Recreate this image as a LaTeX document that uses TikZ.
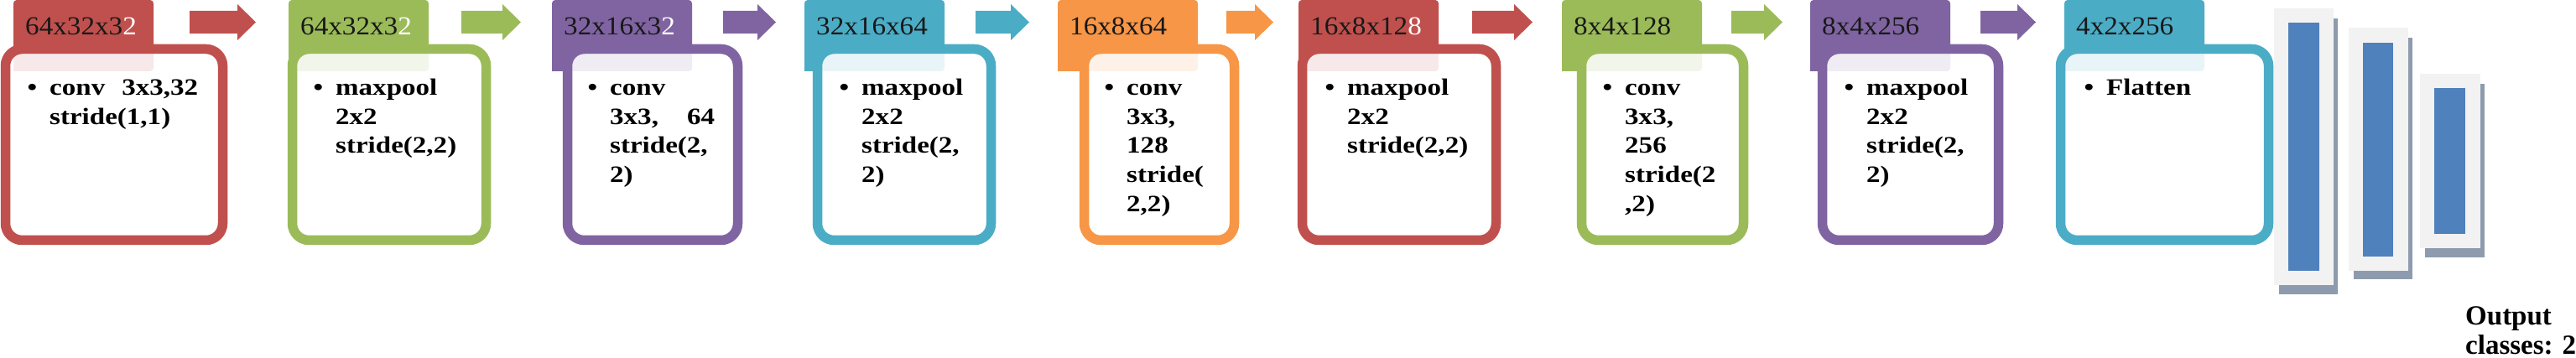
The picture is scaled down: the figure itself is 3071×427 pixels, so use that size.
\documentclass[tikz,border=0pt]{standalone}
\usepackage{fontspec}
\setmainfont{Liberation Serif}
\newfontfamily\tabfont[FakeStretch=1.07]{Liberation Serif}
\newfontfamily\bodyfont[FakeStretch=1.18]{Liberation Serif}
\usetikzlibrary{calc}
\definecolor{cred}{HTML}{C0504D}
\definecolor{cgreen}{HTML}{9BBB59}
\definecolor{cpurple}{HTML}{8064A2}
\definecolor{caqua}{HTML}{4BACC6}
\definecolor{corange}{HTML}{F79646}
\definecolor{cblue}{HTML}{4F81BD}
\definecolor{cpale}{HTML}{F2F2F2}
\definecolor{cshadow}{HTML}{8E9BAE}
\tikzset{
  tabtext/.style={anchor=base west,inner sep=0,font=\tabfont\fontsize{31}{35}\selectfont,text=black!90},
  stagebox/.style={draw=#1,line width=11.5,fill=white,fill opacity=0.88,rounded corners=20},
  bodytext/.style={anchor=base west,inner sep=0,align=left,font=\bodyfont\bfseries\fontsize{28}{34.7}\selectfont},
  outtext/.style={anchor=base west,inner sep=0,align=left,font=\bfseries\fontsize{33}{35}\selectfont},
}
\newcommand{\bul}{\llap{\textbullet\hspace{15pt}}}
\begin{document}
\begin{tikzpicture}[x=1pt,y=-1pt]
\useasboundingbox (0,0) rectangle (3071,427);
% tabs
\foreach \xt/\c in {16/cred,344/cgreen,658/cpurple,959/caqua,1261/corange,1548/cred,1862/cgreen,2158/cpurple,2461/caqua}
  \fill[\c] (\xt,85) [rounded corners=4]|- (\xt+167,0) -- (\xt+167,85) [sharp corners]-- cycle;
% boxes
\draw[stagebox=cred](6.5,58.5)rectangle(265.5,286.5);
\draw[stagebox=cgreen](348.5,58.5)rectangle(579.5,286.5);
\draw[stagebox=cpurple](676.5,58.5)rectangle(879.5,286.5);
\draw[stagebox=caqua](974.5,58.5)rectangle(1181.5,286.5);
\draw[stagebox=corange](1292.5,58.5)rectangle(1471.5,286.5);
\draw[stagebox=cred](1552.5,58.5)rectangle(1783.5,286.5);
\draw[stagebox=cgreen](1885.5,58.5)rectangle(2078.5,286.5);
\draw[stagebox=cpurple](2172.5,58.5)rectangle(2382.5,286.5);
\draw[stagebox=caqua](2456.5,58.5)rectangle(2704.5,286.5);
% tab labels
\node[tabtext](t1)at(30,42){64x32x3\textcolor{white}{2}};
\node[tabtext](t2)at(358,42){64x32x3\textcolor{white}{2}};
\node[tabtext](t3)at(672,42){32x16x3\textcolor{white}{2}};
\node[tabtext](t4)at(973,42){32x16x64};
\node[tabtext](t5)at(1275,42){16x8x64};
\node[tabtext](t6)at(1562,42){16x8x12\textcolor{white}{8}};
\node[tabtext](t7)at(1876,42){8x4x128};
\node[tabtext](t8)at(2172,42){8x4x256};
\node[tabtext](t9)at(2475,42){4x2x256};
% layer texts (anchored on the last line)
\node[bodytext](b1)at(59,148.2){\bul conv\hspace{20pt}3x3,32\\stride(1,1)};
\node[bodytext](b2)at(400,182.9){\bul maxpool\\2x2\\stride(2,2)};
\node[bodytext](b3)at(727,217.6){\bul conv\\3x3,\hspace{34pt}64\\stride(2,\\2)};
\node[bodytext](b4)at(1027,217.6){\bul maxpool\\2x2\\stride(2,\\2)};
\node[bodytext](b5)at(1343,252.3){\bul conv\\3x3,\\128\\stride(\\2,2)};
\node[bodytext](b6)at(1606,182.9){\bul maxpool\\2x2\\stride(2,2)};
\node[bodytext](b7)at(1937,252.3){\bul conv\\3x3,\\256\\stride(2\\,2)};
\node[bodytext](b8)at(2225,217.6){\bul maxpool\\2x2\\stride(2,\\2)};
\node[bodytext](b9)at(2511,113.5){\bul Flatten};
% arrows
\foreach \xa/\xb/\c in {226/305/cred,550/621/cgreen,862/925/cpurple,1163/1227/caqua,1462/1518/corange,1755/1827/cred,2064/2125/cgreen,2361/2427/cpurple}
  \fill[\c](\xa,13)--(\xb-22,13)--(\xb-22,5)--(\xb,26.5)--(\xb-22,48)--(\xb-22,40)--(\xa,40)--cycle;
% dense layers
\fill[cshadow](2717,22)rectangle(2787,351);
\fill[cpale](2711,10)rectangle(2782,340);
\fill[cblue](2728,27)rectangle(2765,323);
\fill[cshadow](2806,45)rectangle(2876,333);
\fill[cpale](2800,33)rectangle(2871,323);
\fill[cblue](2817,51)rectangle(2853,306);
\fill[cshadow](2891,100)rectangle(2962,307);
\fill[cpale](2885,88)rectangle(2957,296);
\fill[cblue](2902,105)rectangle(2939,279);
\node[outtext](out)at(2939,422){Output\\classes: 2};
\end{tikzpicture}
\end{document}
